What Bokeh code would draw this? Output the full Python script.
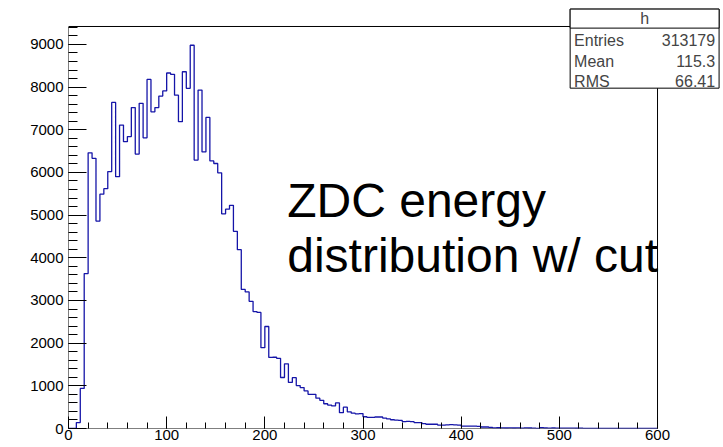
import numpy as np
from bokeh.plotting import figure
from bokeh.models import FixedTicker, Range1d, Label, BoxAnnotation
from bokeh.embed import file_html
from bokeh.resources import INLINE

# ---- data -------------------------------------------------------------
hist_name = "h"
bin_width = 4
x_low = 0
x_high = 600
y_frame_max = 9420
counts = [
    0, 0, 140, 940, 3630, 6460, 6330, 4860, 5490, 5620, 6020, 7640, 5900, 7110, 6720, 6840,
    7520, 6430, 7620, 6810, 8180, 7420, 7520, 7790, 7910, 8330, 8300, 7810, 7190, 8360, 7970, 8980,
    6290, 7930, 6480, 7290, 6270, 6210, 5990, 5030, 5140, 5230, 4620, 4190, 3260, 3200, 2980, 2740,
    2720, 1895, 2390, 1665, 1670, 1645, 1195, 1515, 1080, 1190, 1005, 960, 880, 800, 800, 710,
    660, 580, 550, 530, 600, 370, 500, 390, 360, 345, 350, 275, 260, 260, 270, 270,
    245, 225, 205, 195, 190, 160, 165, 160, 140, 140, 116, 100, 100, 100, 80, 77,
    85, 90, 85, 80, 55, 55, 55, 55, 50, 35, 35, 25, 15, 18, 15, 12,
    15, 12, 15, 10, 15, 12, 10, 5, 20, 12, 10, 12, 10, 8, 10, 8,
    10, 6, 8, 0, 0, 0, 0, 0, 0, 5, 0, 0, 0, 0, 0, 0,
    0, 0, 0, 0, 0, 0,
]
stat_names = ["Entries", "Mean", "RMS"]
stat_values = ["313179", "115.3", "66.41"]
x_ticks = [0, 100, 200, 300, 400, 500, 600]
y_ticks = [0, 1000, 2000, 3000, 4000, 5000, 6000, 7000, 8000, 9000]
note_lines = ["ZDC energy", "distribution w/ cut"]

FONT = "Liberation Sans"

# ---- figure -----------------------------------------------------------
# The plotting area spans the canvas right/top of the axes so that the stats
# box and the big text can sit outside the ROOT frame (drawn as a box below).
p = figure(width=723, height=447, output_backend="svg", toolbar_location=None,
           x_range=Range1d(0, 667.2), y_range=Range1d(0, 10029))
p.min_border_left = 68
p.min_border_right = 0
p.min_border_top = 0
p.min_border_bottom = 19
p.background_fill_color = "white"
p.border_fill_color = "white"
p.outline_line_color = None
p.grid.visible = False

# histogram outline
c = np.asarray(counts, dtype=float)
edges = x_low + bin_width * np.arange(len(c) + 1)
xs = np.concatenate([[edges[0]], np.repeat(edges, 2)[1:-1], [edges[-1]]])
ys = np.concatenate([[0.0], np.repeat(c, 2), [0.0]])
p.line(xs, ys, line_color="#1515a8", line_width=1.3)

# axes in ROOT style (ticks inside)
xa = p.xaxis[0]
xa.ticker = FixedTicker(ticks=x_ticks,
                        minor_ticks=list(range(x_ticks[0], x_ticks[-1] + 1, 20)))
xa.major_tick_in = 12
xa.major_tick_out = 0
xa.minor_tick_in = 6
xa.minor_tick_out = 0
xa.major_label_standoff = 1
xa.major_label_text_font = FONT
xa.major_label_text_font_size = "15px"
xa.major_label_text_color = "black"
xa.axis_line_color = None

ya = p.yaxis[0]
ya.ticker = FixedTicker(ticks=y_ticks,
                        minor_ticks=list(range(0, 9401, 200)))
ya.major_tick_in = 18
ya.major_tick_out = 0
ya.minor_tick_in = 9
ya.minor_tick_out = 0
ya.major_label_standoff = 5
ya.major_label_text_font = FONT
ya.major_label_text_font_size = "15px"
ya.major_label_text_color = "black"
ya.axis_line_color = None
for ax in (xa, ya):
    ax.major_tick_line_color = "black"
    ax.minor_tick_line_color = "black"

# ROOT frame
p.add_layout(BoxAnnotation(left=x_low, right=x_high, bottom=0, top=y_frame_max,
                           fill_alpha=0, line_color="black", line_width=1,
                           line_alpha=1.0, level="underlay"))

# annotation text
for i, line in enumerate(note_lines):
    p.add_layout(Label(x=222.8, y=5350 - i * 1290, text=line, text_font=FONT,
                       text_font_size="48px", text_color="black",
                       text_baseline="alphabetic", text_align="left"))

# stats box
p.add_layout(BoxAnnotation(left=511, right=662.7, top=9827, bottom=7975,
                           fill_color="white", fill_alpha=1.0,
                           line_color="black", line_width=1, line_alpha=1.0))
p.add_layout(BoxAnnotation(left=511, right=662.7, top=9827, bottom=9382,
                           fill_color="white", fill_alpha=1.0,
                           line_color="black", line_width=1, line_alpha=1.0))
p.add_layout(Label(x=586.9, y=9604, text=hist_name, text_font=FONT,
                   text_font_size="16px", text_align="center", text_baseline="middle"))
row_y = [9100, 8607, 8139]
for name, val, yy in zip(stat_names, stat_values, row_y):
    p.add_layout(Label(x=515, y=yy, text=name, text_font=FONT, text_font_size="16px",
                       text_align="left", text_baseline="middle"))
    p.add_layout(Label(x=658.7, y=yy, text=val, text_font=FONT, text_font_size="16px",
                       text_align="right", text_baseline="middle"))

open("out.html", "w").write(file_html(p, INLINE))
